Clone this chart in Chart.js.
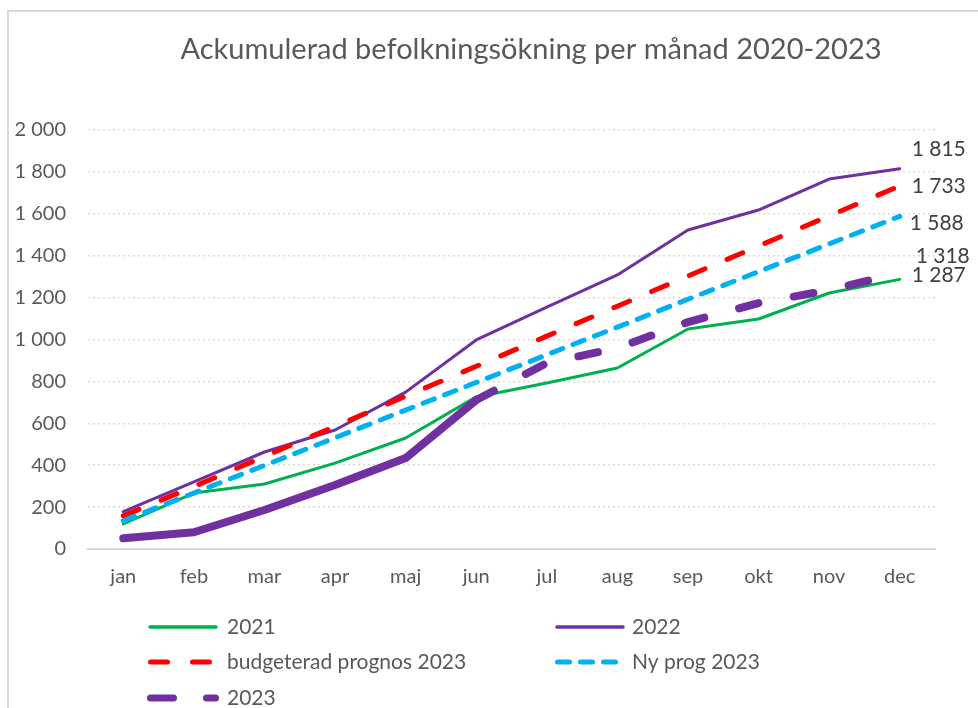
<!DOCTYPE html>
<html>
<head>
<meta charset="utf-8">
<script src="https://cdn.jsdelivr.net/npm/chart.js@4.4.1/dist/chart.umd.min.js"></script>
<style>
  html, body { margin: 0; padding: 0; background: #fff; }
  #wrap { position: relative; width: 978px; height: 708px; overflow: hidden; }
  #frame { position: absolute; left: 7px; top: 10px; width: 1000px; height: 800px; border: 2px solid #d9d9d9; box-sizing: border-box; }
  #c { position: absolute; left: 0; top: 0; }
</style>
</head>
<body>
<div id="wrap">
  <div id="frame"></div>
  <canvas id="c" width="978" height="708"></canvas>
</div>
<script>
const months = ["jan", "feb", "mar", "apr", "maj", "jun", "jul", "aug", "sep", "okt", "nov", "dec"];

const v2021 = [120, 267, 310, 410, 530, 726, 792, 864, 1050, 1098, 1222, 1287];
const v2022 = [178, 320, 463, 568, 749, 998, 1155, 1308, 1523, 1618, 1766, 1815];
const budget2023 = [158, 298, 442, 585, 729, 872, 1016, 1159, 1303, 1446, 1590, 1733];
const nyProg2023 = [135, 267, 399, 531, 663, 795, 927, 1059, 1192, 1324, 1456, 1588];
const v2023 = [51, 80, 186, 305, 434, 711, 888, 959, 1083, 1174, 1236, 1318];

const yTicks = [0, 200, 400, 600, 800, 1000, 1200, 1400, 1600, 1800, 2000];

const FONT = "Lato, 'Open Sans', sans-serif";
const GREY = "#595959";

function fmt(v) {
    const s = String(Math.round(v));
    return s.length > 3 ? s.slice(0, -3) + " " + s.slice(-3) : s;
}

// end-of-line value labels, nudged like Excel does to avoid overlaps
const endLabels = [
    { dx: 12, dy: -4 },
    { dx: 12, dy: -20 },
    { dx: 12, dy: 0 },
    { dx: 10, dy: 7 },
    { dx: 16, dy: -17 }
];

const legendItems = [
    { ds: 0, x0: 150, x1: 216, y: 627, tx: 227, width: 3.5, dash: [] },
    { ds: 1, x0: 557, x1: 623, y: 627, tx: 632, width: 3.5, dash: [] },
    { ds: 2, x0: 150.5, x1: 209.5, y: 662, tx: 227, width: 5, dash: [17, 25] },
    { ds: 3, x0: 557.5, x1: 615.5, y: 662, tx: 632, width: 5, dash: [12, 11] },
    { ds: 4, x0: 150.5, x1: 215.5, y: 698, tx: 227, width: 7, dash: [23, 33] }
];

const decorPlugin = {
    id: "decor",
    afterDatasetsDraw(chart) {
        const ctx = chart.ctx;
        ctx.save();
        ctx.font = "21px " + FONT;
        ctx.fillStyle = "#404040";
        ctx.textAlign = "left";
        ctx.textBaseline = "middle";
        chart.data.datasets.forEach((ds, i) => {
            const pts = chart.getDatasetMeta(i).data;
            const last = pts[pts.length - 1];
            ctx.fillText(fmt(ds.data[ds.data.length - 1]), last.x + endLabels[i].dx, last.y + endLabels[i].dy);
        });
        ctx.restore();
    },
    afterDraw(chart) {
        const ctx = chart.ctx;
        ctx.save();

        // title
        ctx.font = "29px " + FONT;
        ctx.fillStyle = GREY;
        ctx.textAlign = "center";
        ctx.textBaseline = "middle";
        ctx.fillText("Ackumulerad befolkningsökning per månad 2020-2023", 531, 50);

        // legend
        legendItems.forEach(it => {
            const ds = chart.data.datasets[it.ds];
            ctx.beginPath();
            ctx.lineCap = "round";
            ctx.lineWidth = it.width;
            ctx.strokeStyle = ds.borderColor;
            ctx.setLineDash(it.dash);
            ctx.moveTo(it.x0, it.y);
            ctx.lineTo(it.x1, it.y);
            ctx.stroke();
            ctx.setLineDash([]);
            ctx.font = "21px " + FONT;
            ctx.fillStyle = GREY;
            ctx.textAlign = "left";
            ctx.textBaseline = "middle";
            ctx.fillText(ds.label, it.tx, it.y);
        });
        ctx.restore();
    }
};

const ctx = document.getElementById("c").getContext("2d");

new Chart(ctx, {
    type: "line",
    data: {
        labels: months,
        datasets: [
            {
                label: "2021",
                data: v2021,
                borderColor: "#00b050",
                borderWidth: 3,
                order: 5
            },
            {
                label: "2022",
                data: v2022,
                borderColor: "#7030a0",
                borderWidth: 3,
                order: 4
            },
            {
                label: "budgeterad prognos 2023",
                data: budget2023,
                borderColor: "#ff0000",
                borderWidth: 5,
                borderDash: [17, 24],
                order: 3
            },
            {
                label: "Ny prog 2023",
                data: nyProg2023,
                borderColor: "#00b0f0",
                borderWidth: 5,
                borderDash: [12, 11],
                order: 2
            },
            {
                label: "2023",
                data: v2023,
                borderColor: "#7030a0",
                borderWidth: 8,
                order: 1,
                segment: {
                    borderDash: c => c.p0DataIndex >= 5 ? [20, 36] : []
                }
            }
        ]
    },
    options: {
        responsive: false,
        animation: false,
        layout: {
            padding: { top: 130, left: 0, right: 43, bottom: 119 }
        },
        elements: {
            point: { radius: 0 },
            line: { tension: 0, borderCapStyle: "round", borderJoinStyle: "round" }
        },
        plugins: {
            legend: { display: false },
            title: { display: false },
            tooltip: { enabled: false }
        },
        scales: {
            x: {
                offset: true,
                grid: { display: false, drawTicks: false },
                border: { display: true, color: "#d9d9d9", width: 2 },
                ticks: {
                    padding: 16,
                    color: GREY,
                    font: { family: FONT, size: 20 }
                },
                afterFit: s => { s.height = 40; }
            },
            y: {
                min: 0,
                max: 2000,
                afterBuildTicks: s => { s.ticks = yTicks.map(v => ({ value: v })); },
                grid: { color: "#d9d9d9", lineWidth: 1.5, drawTicks: false },
                border: { display: false, dash: [2, 3] },
                ticks: {
                    padding: 22,
                    color: GREY,
                    font: { family: FONT, size: 20 },
                    callback: v => fmt(v)
                },
                afterFit: s => { s.width = 88; }
            }
        }
    },
    plugins: [decorPlugin]
});
</script>
</body>
</html>
